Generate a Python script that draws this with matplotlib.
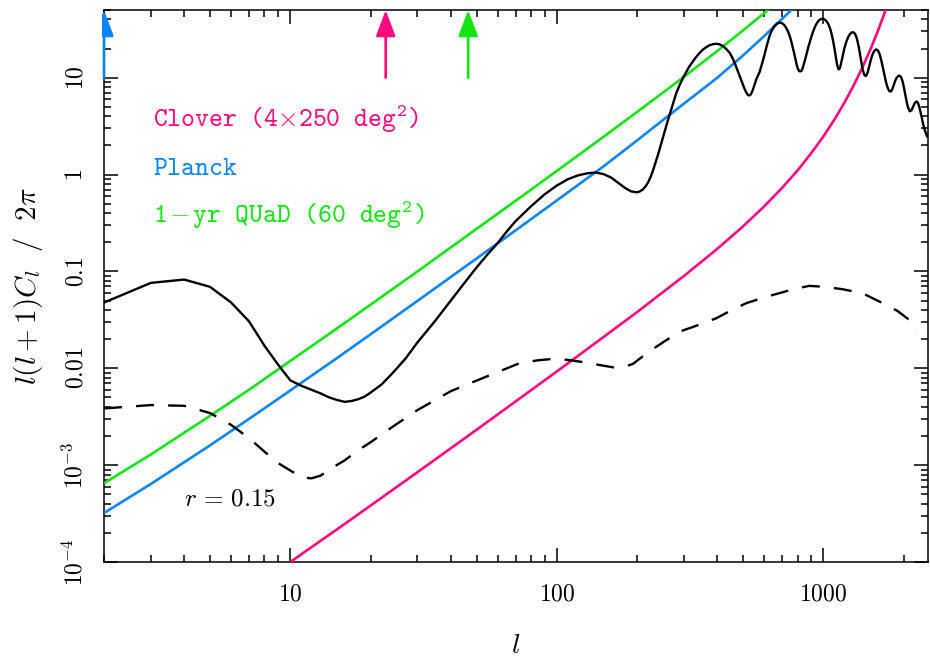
import matplotlib
matplotlib.use('Agg')
import matplotlib.pyplot as plt
from matplotlib.ticker import FixedLocator, NullFormatter, LogLocator
from matplotlib.transforms import Bbox

plt.rcParams['mathtext.fontset'] = 'cm'
plt.rcParams['mathtext.rm'] = 'cmtt10'
plt.rcParams['mathtext.it'] = 'cmtt10'
plt.rcParams['mathtext.tt'] = 'cmtt10'
plt.rcParams['mathtext.bf'] = 'cmtt10'
plt.rcParams['mathtext.fallback'] = 'cm'
plt.rcParams['font.family'] = ['DejaVu Sans']

# ---------------- data ----------------
# E-mode polarisation spectrum (solid black)
ee_l = [2, 3, 4, 5, 6, 7, 8, 9, 10, 11, 12, 13, 14, 15, 16, 17, 18, 19, 20, 22, 24, 27, 30, 35,
        40, 45, 50, 55, 60, 65, 70, 80, 90, 100, 110, 120, 130, 140, 150, 160, 170, 180, 190,
        200, 205, 210, 215, 220, 225, 230, 235, 240, 245, 250, 260, 270, 281, 290, 300, 315,
        330, 342, 354, 365,
        375, 386, 397, 408, 420, 432, 445, 455, 465, 475, 486, 496, 505, 513, 520, 527, 534,
        542, 550, 560, 577, 590, 602, 615, 628, 642, 655, 670, 685, 698, 712, 725, 735, 745,
        755, 765, 775, 785, 795, 803, 812, 820, 828, 836, 845, 855, 865, 875, 887, 900, 915,
        930, 945, 960, 975, 990, 1005, 1020, 1035, 1048, 1062, 1075, 1088, 1100, 1112, 1122,
        1131, 1140, 1149, 1158, 1170, 1185, 1200, 1220, 1240, 1260, 1275, 1290, 1305, 1320,
        1335, 1350, 1365, 1380, 1395, 1410, 1425, 1442, 1455, 1470, 1490, 1510, 1535, 1558,
        1580, 1603, 1625, 1648, 1670, 1695, 1720, 1745, 1768, 1790, 1810, 1835, 1860, 1885,
        1910, 1930, 1955, 1980, 2005, 2030, 2055, 2080, 2110, 2140, 2170, 2205, 2237, 2265,
        2295, 2330, 2370, 2410, 2450]
ee_val = [0.0477, 0.0762, 0.0824, 0.0693, 0.0477, 0.0305, 0.0171, 0.0109, 0.0075, 0.0066,
          0.0060, 0.0055, 0.0050, 0.0047, 0.0045, 0.0046, 0.0048, 0.0051, 0.0056, 0.0068,
          0.0087, 0.0125, 0.0185, 0.031, 0.050, 0.076, 0.11, 0.15, 0.196, 0.26, 0.33, 0.47,
          0.625, 0.77, 0.895, 0.98, 1.03, 1.05, 1.01, 0.93, 0.82, 0.73, 0.67,
          0.655, 0.67, 0.70, 0.75, 0.83, 0.95, 1.12, 1.35, 1.62, 1.98, 2.42, 3.5, 4.9, 7.0,
          8.6, 10.4, 13.2, 15.8, 17.8, 19.6, 20.8,
          21.7, 22.2, 22.4, 22.1, 21.2, 19.8, 18.1, 16.2, 14.2, 12.2, 10.4, 8.9, 7.8, 7.1, 6.7,
          6.55, 6.7, 7.3, 8.2, 9.6, 11.5, 14.2, 17.4, 22.0, 26.9, 31.0, 34.0, 36.2, 37.0, 36.7,
          35.2, 32.8, 30.5, 27.8, 24.8, 21.5, 18.5, 15.7, 13.5, 12.3, 11.7, 11.6, 11.8, 12.5,
          13.8, 15.5, 17.6, 19.9, 22.8, 26.0, 29.8, 33.5, 36.5, 38.8, 40.1, 40.6, 40.3, 39.2,
          37.3, 35.0, 31.7, 28.0, 24.0, 20.3, 16.8, 14.5, 13.0, 12.2, 12.3, 13.0, 14.8, 17.4,
          20.2, 23.6, 26.4, 28.3, 29.2, 29.5, 29.1, 27.8, 25.5, 22.5, 19.2, 16.0, 13.5, 11.7,
          10.7, 10.4, 10.7, 11.6, 13.5, 15.6, 17.8, 19.1, 19.6, 19.1, 17.6, 15.3, 12.9, 10.6,
          8.9, 7.8, 7.3, 7.2, 7.5, 8.3, 9.3, 10.0, 10.4, 10.5, 10.2, 9.3, 8.0, 6.7, 5.6, 4.9,
          4.5, 4.6, 5.0, 5.5, 5.7, 5.5, 4.9, 4.1, 3.3, 2.8, 2.48]

# B-mode spectrum for r = 0.15 (dashed black)
bb_l = [2, 3, 4, 5, 6, 7, 8, 9, 10, 11, 12, 13, 14, 16, 18, 20, 24, 30, 40, 55, 72, 85, 97,
        110, 125, 145, 167, 180, 193, 222, 250, 289, 340, 397, 450, 514, 600, 685, 780, 886,
        1000, 1177, 1400, 1670, 1900, 2100, 2250]
bb_val = [0.00385, 0.00417, 0.0041, 0.00345, 0.0026, 0.0019, 0.00138, 0.00105, 0.00088,
          0.00075, 0.00073, 0.00078, 0.0009, 0.00112, 0.00143, 0.00172, 0.00245, 0.0037,
          0.0058, 0.0083, 0.0112, 0.0121, 0.0125, 0.0122, 0.0116, 0.0108, 0.0101, 0.0104,
          0.0111, 0.0149, 0.0185, 0.0239, 0.028, 0.0329, 0.0395, 0.047, 0.054, 0.0597, 0.066,
          0.0709, 0.0695, 0.0656, 0.0597, 0.047, 0.039, 0.0316, 0.0245]

# Noise curves
clover_l = [10, 15, 20, 30, 50, 70, 100, 150, 200, 300, 400, 500, 600, 700, 800, 900, 1000,
            1100, 1200, 1300, 1400, 1500, 1600, 1700, 1750]
clover_val = [1.0e-4, 2.18e-4, 3.82e-4, 8.45e-4, 2.32e-3, 4.54e-3, 9.27e-3, 0.0211, 0.038,
              0.0898, 0.171, 0.292, 0.470, 0.728, 1.10, 1.66, 2.47, 3.69, 5.53, 8.34, 12.7,
              19.4, 30.1, 47.3, 59.5]

planck_l = [2, 3, 5, 7, 10, 15, 20, 30, 50, 70, 100, 150, 200, 250, 300, 400, 500, 600, 700, 770]
planck_val = [3.2e-4, 6.4e-4, 1.6e-3, 3.0e-3, 5.9e-3, 0.0128, 0.0224, 0.0496, 0.136, 0.265,
              0.54, 1.22, 2.25, 3.65, 5.4, 10.0, 17.0, 26.9, 40.5, 52.0]

quad_l = [2, 3, 5, 7, 10, 15, 20, 30, 50, 70, 100, 150, 200, 300, 400, 500, 630]
quad_val = [6.5e-4, 1.29e-3, 3.23e-3, 6.0e-3, 0.0119, 0.0259, 0.0453, 0.100, 0.275, 0.535,
            1.09, 2.46, 4.43, 10.2, 18.9, 30.8, 52.0]

# arrows marking the lowest multipole of each experiment
arrow_l = [2, 22.8, 46.5]
arrow_lo = 10
arrow_hi = 50

SP = r'\hspace{1}'
labels = [r'$\mathrm{Clover' + SP + r'(4}{\times}\mathrm{250' + SP + r'deg^{2})}$',
          r'$\mathrm{Planck}$',
          r'$\mathrm{1}\hspace{0.2}{-}\hspace{0.2}\mathrm{yr' + SP + r'QUaD' + SP + r'(60'
          + SP + r'deg^{2})}$']

xticks = [10, 100, 1000]
xticklabels = [r'$10$', r'$100$', r'$1000$']
yticks = [1e-4, 1e-3, 1e-2, 1e-1, 1, 10]
yticklabels = [r'$10^{-4}$', r'$10^{-3}$', r'$0.01$', r'$0.1$', r'$1$', r'$10$']

PINK = '#FF0A80'
BLUE = '#0C86F7'
GREEN = '#12E612'

# ---------------- figure ----------------
W, H = 930, 660
fig = plt.figure(figsize=(W / 100, H / 100), dpi=100)
L, R, T, B = 104, 928, 10, 562
ax = fig.add_axes([L / W, (H - B) / H, (R - L) / W, (B - T) / H])
ax.set_xscale('log')
ax.set_yscale('log')
ax.set_xlim(2, 2470)
ax.set_ylim(1e-4, 50)

ax.plot(clover_l, clover_val, color=PINK, lw=1.9, solid_capstyle='butt', zorder=3)
ax.plot(planck_l, planck_val, color=BLUE, lw=1.9, solid_capstyle='butt', zorder=3)
ax.plot(quad_l, quad_val, color=GREEN, lw=1.9, solid_capstyle='butt', zorder=3)
ax.plot(ee_l, ee_val, color='black', lw=1.7, zorder=4, solid_joinstyle='round')
ax.plot(bb_l, bb_val, color='black', lw=1.7, linestyle=(0, (7.6, 6.0)), zorder=4)

# arrows
bb = ax.bbox.frozen()
clipbox = Bbox.from_extents(bb.x0 - 2, bb.y0, bb.x1, bb.y1 + 2)
for lx, col in zip(arrow_l, [BLUE, PINK, GREEN]):
    ann = ax.annotate('', xy=(lx, arrow_hi), xytext=(lx, arrow_lo),
                      arrowprops=dict(arrowstyle='-|>,head_length=0.8,head_width=0.3',
                                      color=col, lw=1.9, shrinkA=0, shrinkB=0,
                                      mutation_scale=20),
                      annotation_clip=False, zorder=5)
    ann.arrow_patch.set_clip_box(clipbox)
    ann.arrow_patch.set_clip_on(True)

# legend-like texts (typewriter face)
for txt, col, yb in zip(labels, [PINK, BLUE, GREEN], [127, 175, 223]):
    fig.text(153 / W, 1 - yb / H, txt, color=col, fontsize=19, va='baseline', ha='left',
             math_fontfamily='custom')

fig.text(184 / W, 1 - 505 / H, r'$r\,{=}\,0.15$', fontsize=18, va='baseline', ha='left',
         color='black')

# ticks
ax.xaxis.set_major_locator(FixedLocator(xticks))
ax.set_xticklabels(xticklabels)
ax.xaxis.set_minor_locator(LogLocator(base=10, subs=range(2, 10), numticks=20))
ax.xaxis.set_minor_formatter(NullFormatter())
ax.yaxis.set_major_locator(FixedLocator(yticks))
ax.set_yticklabels(yticklabels)
ax.yaxis.set_minor_locator(LogLocator(base=10, subs=range(2, 10), numticks=20))
ax.yaxis.set_minor_formatter(NullFormatter())

ax.tick_params(which='both', direction='in', top=True, right=True, width=1.1, colors='black')
ax.tick_params(which='major', length=10, labelsize=17)
ax.tick_params(axis='x', which='major', pad=14)
ax.tick_params(axis='y', which='major', pad=12)
ax.tick_params(which='minor', length=5)
for lab in ax.get_yticklabels():
    lab.set_rotation(90)
    lab.set_va('center')
for sp in ax.spines.values():
    sp.set_linewidth(1.1)

ax.set_ylabel(r'$l(l+1)C_l\ \ /\ \ 2\pi$', fontsize=21)
ax.yaxis.set_label_coords((45 - L) / (R - L), 0.5)
ax.set_xlabel(r'$l$', fontsize=20, va='center')
ax.xaxis.set_label_coords(0.5, (B - 645) / (B - T))

fig.savefig('out.png', dpi=100)
